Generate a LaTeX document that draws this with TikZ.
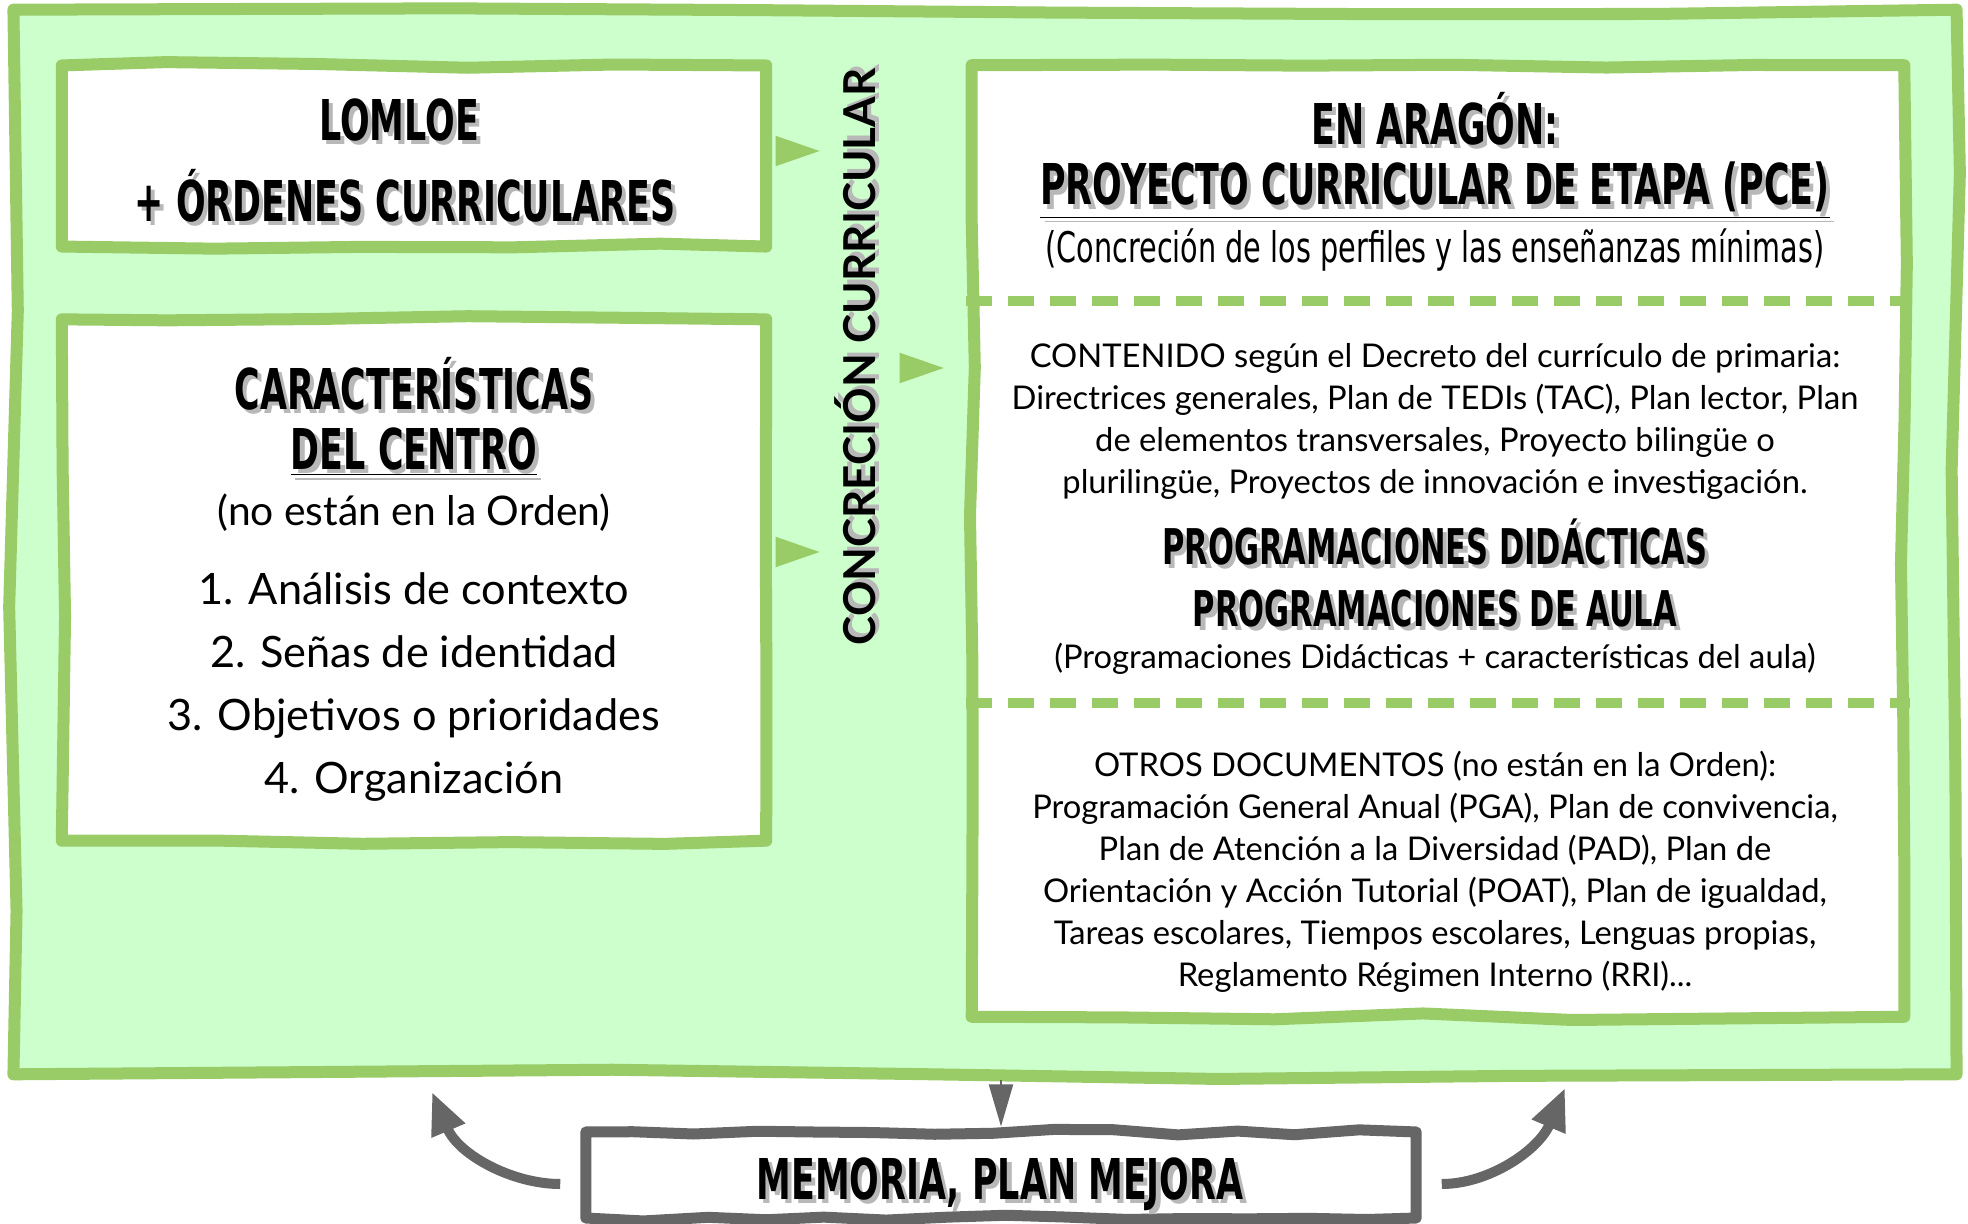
\documentclass[tikz,border=0pt]{standalone}
\usepackage{fontspec}
\setmainfont{Lato}
\newfontfamily\headfont{DejaVu Sans}[FakeStretch=0.62]
\newfontfamily\estrechofont{DejaVu Sans}[FakeStretch=0.68]
\usetikzlibrary{arrows.meta, positioning, decorations.pathmorphing}

\definecolor{fondo}{HTML}{CCFFCC}
\definecolor{verde}{HTML}{99CC66}
\definecolor{gris}{HTML}{666666}
\definecolor{sombragris}{HTML}{B8B8B8}

\newcommand{\sombra}[1]{\leavevmode\rlap{\kern1.2pt\raisebox{-1.2pt}{\color{sombragris}#1}}#1}

\begin{document}
\begin{tikzpicture}[x=0.01cm, y=-0.01cm,
  marco/.style={draw=verde, fill=fondo, line width=0.12cm, line join=round, decorate, decoration={random steps, segment length=3cm, amplitude=0.05cm}},
  caja/.style={draw=verde, fill=white, line width=0.12cm, line join=round, decorate, decoration={random steps, segment length=1.5cm, amplitude=0.035cm}},
  cajagris/.style={caja, draw=gris, line width=0.11cm, decoration={random steps, segment length=0.6cm, amplitude=0.03cm}},
  titulo/.style={font=\headfont\bfseries\fontsize{16}{19}\selectfont, inner sep=0pt, anchor=base},
  titulo2/.style={font=\headfont\bfseries\fontsize{14}{17}\selectfont, inner sep=0pt, anchor=base},
  estrecho/.style={font=\estrechofont\fontsize{12}{14}\selectfont, inner sep=0pt, anchor=base},
  subtexto/.style={font=\fontsize{11.6}{13}\selectfont, inner sep=0pt, anchor=base},
  lista/.style={font=\fontsize{12.3}{17.84}\selectfont, align=center, inner sep=0pt, anchor=base},
  cuerpo/.style={font=\fontsize{9.3}{11.9}\selectfont, align=center, inner sep=0pt, anchor=base},
  vertical/.style={font=\bfseries\fontsize{12.5}{15}\selectfont, inner sep=0pt, rotate=90},
  flechaverde/.style={draw=verde, line width=0.02cm, -{Triangle[length=0.44cm, width=0.3cm]}},
  flechagris/.style={draw=gris, line width=0.1cm, -{Triangle[length=0.42cm, width=0.34cm]}},
  separador/.style={draw=verde, line width=0.1cm, dash pattern=on 0.26cm off 0.16cm}
]
\pgfmathsetseed{12}
\useasboundingbox (0,0) rectangle (1968,1224);

% marco y cajas
\node[marco, minimum width=19.42cm, minimum height=10.64cm] (marco) at (985,542) {};
\node[caja, minimum width=7.04cm, minimum height=1.81cm] (lomloe) at (414,156) {};
\node[caja, minimum width=7.04cm, minimum height=5.21cm] (caract) at (414,580) {};
\node[caja, minimum width=9.32cm, minimum height=9.51cm] (derecha) at (1438,541) {};
\node[cajagris, minimum width=8.3cm, minimum height=0.86cm] (memoria) at (1001,1175) {};

% textos izquierda
\node[titulo] (lomloe1) at (399,140) {\sombra{LOMLOE}};
\node[titulo] (lomloe2) at (405,221) {\sombra{+ ÓRDENES CURRICULARES}};
\node[titulo] (car1) at (414,409) {\sombra{CARACTERÍSTICAS}};
\node[titulo] (car2) at (414,469) {\sombra{\underline{DEL CENTRO}}};
\node[subtexto] (car3) at (414,525) {(no están en la Orden)};
\node[lista] (car4) at (414,793) {1. Análisis de contexto\\2. Señas de identidad\\3. Objetivos o prioridades\\4. Organización};

\node[vertical] (concrec) at (857,357) {\sombra{CONCRECIÓN CURRICULAR}};

% textos derecha
\node[titulo] (ara1) at (1435,144) {\sombra{EN ARAGÓN:}};
\node[titulo] (ara2) at (1435,205) {\sombra{\underline{PROYECTO CURRICULAR DE ETAPA (PCE)}}};
\node[estrecho] (ara3) at (1435,262) {(Concreción de los perfiles y las enseñanzas mínimas)};
\coordinate (s1) at (0,301);
\draw[separador] (derecha.west |- s1) -- (derecha.east |- s1);
\node[cuerpo] (cont) at (1435,493) {CONTENIDO según el Decreto del currículo de primaria:\\Directrices generales, Plan de TEDIs (TAC), Plan lector, Plan\\de elementos transversales, Proyecto bilingüe o\\plurilingüe, Proyectos de innovación e investigación.};
\node[titulo2] (prog1) at (1435,564) {\sombra{PROGRAMACIONES DIDÁCTICAS}};
\node[titulo2] (prog2) at (1435,626) {\sombra{PROGRAMACIONES DE AULA}};
\node[cuerpo] (prog3) at (1435,668) {(Programaciones Didácticas + características del aula)};
\coordinate (s2) at (0,703);
\draw[separador] (derecha.west |- s2) -- (derecha.east |- s2);
\node[cuerpo] (otros) at (1435,986) {OTROS DOCUMENTOS (no están en la Orden):\\Programación General Anual (PGA), Plan de convivencia,\\Plan de Atención a la Diversidad (PAD), Plan de\\Orientación y Acción Tutorial (POAT), Plan de igualdad,\\Tareas escolares, Tiempos escolares, Lenguas propias,\\Reglamento Régimen Interno (RRI)...};

\node[titulo] (memtxt) at (1000,1199) {\sombra{MEMORIA, PLAN MEJORA}};

% flechas verdes
\coordinate (m) at (0,368);
\draw[flechaverde, shorten <=0.1cm, shorten >=0.14cm] ([yshift=0.05cm]lomloe.east) -- ([yshift=0.05cm]lomloe.east -| concrec.north);
\draw[flechaverde, shorten <=0.1cm, shorten >=0.14cm] ([yshift=0.28cm]caract.east) -- ([yshift=0.28cm]caract.east -| concrec.north);
\draw[flechaverde, shorten <=0.26cm, shorten >=0.22cm] (concrec.south |- m) -- (derecha.west |- m);

% flechas grises
\coordinate (izq) at (432,1092);
\coordinate (der) at (1565,1088);
\draw[flechagris, shorten <=0.2cm] ([yshift=-0.09cm]memoria.west) to[out=180, in=-67] (izq);
\draw[flechagris, shorten <=0.2cm] ([yshift=-0.09cm]memoria.east) to[out=0, in=-113] (der);
\draw[flechagris, line width=0.02cm, -{Triangle[length=0.42cm, width=0.24cm]}] (memoria.north |- marco.south) -- (memoria.north);
\end{tikzpicture}
\end{document}
